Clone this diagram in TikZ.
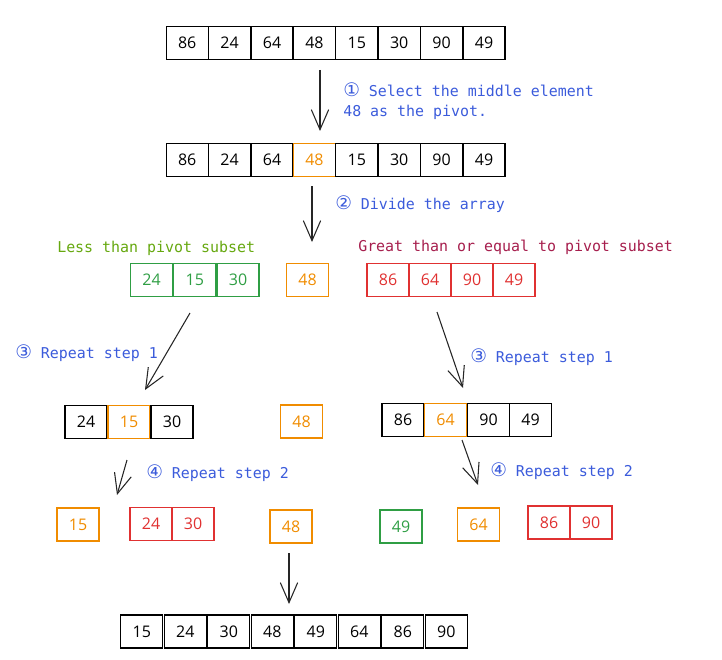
\documentclass[tikz,border=0pt]{standalone}
\usepackage{fontspec}
\setmainfont{Open Sans}
\setmonofont{DejaVu Sans Mono}
\newfontfamily\cdfont{DejaVu Sans}
\usetikzlibrary{arrows.meta}

\definecolor{sketch orange}{HTML}{F08C00}
\definecolor{sketch green}{HTML}{2F9E44}
\definecolor{sketch red}{HTML}{E03131}
\definecolor{note blue}{HTML}{3B5BDB}
\definecolor{less green}{HTML}{66A80F}
\definecolor{great red}{HTML}{A61E4D}

\newcommand{\stepno}[1]{{\cdfont\fontsize{14}{15}\selectfont #1}}

\tikzstyle{cell}=[draw=black, line width=0.9pt, minimum width=31.5pt, minimum height=24.75pt, inner sep=0pt, font=\fontsize{12}{14}\selectfont]
\tikzstyle{pivot}=[cell, draw=sketch orange, text=sketch orange]
\tikzstyle{less}=[cell, draw=sketch green, text=sketch green]
\tikzstyle{great}=[cell, draw=sketch red, text=sketch red]
\tikzstyle{note}=[anchor=west, inner sep=0pt, text=note blue, font=\ttfamily\fontsize{11.2}{15}\selectfont, align=left]
\tikzstyle{title}=[anchor=west, inner sep=0pt, font=\ttfamily\fontsize{11.2}{15}\selectfont]
\tikzstyle{arr}=[-{Straight Barb[length=15pt, width=13pt]}, line width=0.8pt, black!85]

\begin{document}
\begin{tikzpicture}[x=0.75pt, y=-0.75pt]
	\useasboundingbox (0,0) rectangle (722,660);

	% Input array
	\foreach \v [count=\i] in {86,24,64,48,15,30,90,49}{
		\node[cell] (a\i) at (187.2+42.4*\i-42.4, 43) {\v};
	}

	% Pivot picked
	\foreach \v [count=\i] in {86,24,64,48,15,30,90,49}{
		\ifnum\i=4
			\node[pivot] (b\i) at (187.2+42.4*\i-42.4, 160) {\v};
		\else
			\node[cell] (b\i) at (187.2+42.4*\i-42.4, 160) {\v};
		\fi
	}

	% First division
	\node[less] (l1) at (151.5, 280) {24};
	\node[less] (l2) at (194.8, 280) {15};
	\node[less] (l3) at (238.0, 280) {30};
	\node[pivot] (p1) at (307.5, 280) {48};
	\foreach \v [count=\i] in {86,64,90,49}{
		\node[great] (g\i) at (388+42*\i-42, 280) {\v};
	}

	% Second level
	\node[cell]  (ll1) at ( 86.0, 422) {24};
	\node[pivot] (ll2) at (129.0, 422) {15};
	\node[cell]  (ll3) at (172.0, 422) {30};
	\node[pivot] (p2)  at (301.5, 421.5) {48};
	\node[cell]  (gg1) at (403.0, 420) {86};
	\node[pivot] (gg2) at (445.5, 420) {64};
	\node[cell]  (gg3) at (488.5, 420) {90};
	\node[cell]  (gg4) at (530.5, 420) {49};

	% Third level
	\node[pivot] (lp)  at ( 78.0, 524.5) {15};
	\node[great] (lg1) at (151.0, 524) {24};
	\node[great] (lg2) at (193.0, 524) {30};
	\node[pivot] (p3)  at (291.0, 526.5) {48};
	\node[less]  (gl)  at (401.0, 526.5) {49};
	\node[pivot] (gp)  at (478.5, 524.5) {64};
	\node[great] (gg5) at (549.0, 522.5) {86};
	\node[great] (gg6) at (591.0, 522.5) {90};

	% Sorted array
	\foreach \v [count=\i] in {15,24,30,48,49,64,86,90}{
		\node[cell] (s\i) at (141.75+43.5*\i-43.5, 631.5) {\v};
	}

	% Arrows
	\coordinate (t1) at (320, 70);  \coordinate (h1) at (320, 131);
	\coordinate (t2) at (312, 186); \coordinate (h2) at (312, 242);
	\coordinate (t3) at (190, 313); \coordinate (h3) at (145, 390);
	\coordinate (t4) at (437, 312); \coordinate (h4) at (463, 388);
	\coordinate (t5) at (127, 460); \coordinate (h5) at (117, 495);
	\coordinate (t6) at (462, 440); \coordinate (h6) at (478, 485);
	\coordinate (t7) at (289, 553); \coordinate (h7) at (289, 604);
	\foreach \k in {1,...,7}{ \draw[arr] (t\k) -- (h\k); }

	% Notes
	\node[note] (n1) at (343, 101) {\stepno{①} Select the middle element\\48 as the pivot.};
	\node[note] (n2) at (335, 204) {\stepno{②} Divide the array};
	\node[title, text=less green] (lt) at (57, 248) {Less than pivot subset};
	\node[title, text=great red] (gt) at (358, 247) {Great than or equal to pivot subset};
	\node[note] (n3) at (15, 353) {\stepno{③} Repeat step 1};
	\node[note] (n4) at (470, 357) {\stepno{③} Repeat step 1};
	\node[note] (n5) at (146, 473) {\stepno{④} Repeat step 2};
	\node[note] (n6) at (490, 471) {\stepno{④} Repeat step 2};
\end{tikzpicture}
\end{document}
